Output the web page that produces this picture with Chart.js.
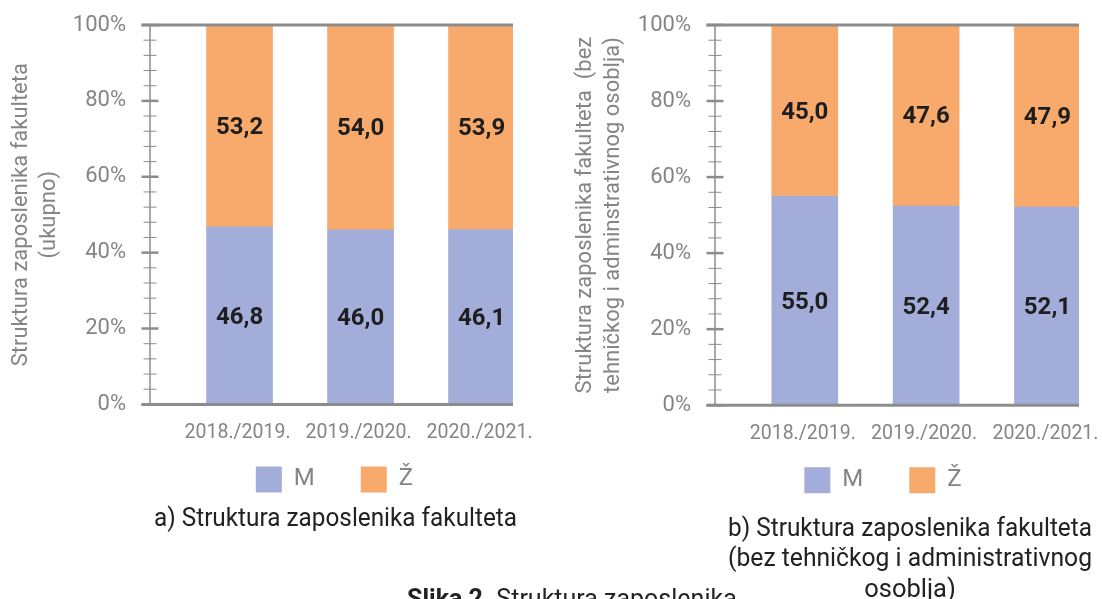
<!DOCTYPE html>
<html>
<head>
<meta charset="utf-8">
<script src="https://cdn.jsdelivr.net/npm/chart.js@4.4.0/dist/chart.umd.min.js"></script>
<style>
  html, body { margin: 0; padding: 0; background: #fff; width: 1102px; height: 599px; overflow: hidden; }
  .box { position: absolute; top: 0; width: 551px; height: 620px; }
  #left { left: 0; }
  #right { left: 551px; }
  #slika { position: absolute; left: 407px; top: 584px; font: 25px Roboto, sans-serif; line-height: 30px; color: #222; white-space: nowrap; }
</style>
</head>
<body>
<div class="box" id="left"><canvas id="c1" width="551" height="620"></canvas></div>
<div class="box" id="right"><canvas id="c2" width="551" height="620"></canvas></div>
<div id="slika"><b>Slika 2.</b> Struktura zaposlenika</div>
<script>
// data
const years = ['2018./2019.', '2019./2020.', '2020./2021.'];
const seriesNames = ['M', 'Ž'];
const totalM = [46.8, 46.0, 46.1];
const totalZ = [53.2, 54.0, 53.9];
const academicM = [55.0, 52.4, 52.1];
const academicZ = [45.0, 47.6, 47.9];
const yTickValues = [0, 20, 40, 60, 80, 100];
const totalAxisTitle = ['Struktura zaposlenika fakulteta', '(ukupno)'];
const academicAxisTitle = ['Struktura zaposlenika fakulteta  (bez', 'tehničkog i adminstrativnog osoblja)'];
const totalCaption = 'a) Struktura zaposlenika fakulteta';
const academicCaption = ['b) Struktura zaposlenika fakulteta', '(bez tehničkog i administrativnog', 'osoblja)'];

const FONT = 'Roboto, "Noto Sans", sans-serif';
const GREY = '#858585';
const AXIS = '#8c8c8c';
const colM = '#a2aed9';
const colZ = '#f8aa6c';

// value labels inside each segment
const segLabels = {
  id: 'segLabels',
  afterDatasetsDraw(chart) {
    const ctx = chart.ctx;
    ctx.save();
    ctx.font = 'bold 24px ' + FONT;
    ctx.fillStyle = '#1e1e1e';
    ctx.textAlign = 'center';
    ctx.textBaseline = 'middle';
    chart.data.datasets.forEach((ds, di) => {
      chart.getDatasetMeta(di).data.forEach((bar, i) => {
        const v = ds.data[i].y;
        ctx.fillText(v.toFixed(1).replace('.', ','), bar.x, (bar.y + bar.base) / 2 + 2);
      });
    });
    ctx.restore();
  }
};

// axis line with ticks crossing it, 0% / 100% lines and category labels
const axisLines = {
  id: 'axisLines',
  afterDatasetsDraw(chart) {
    const ctx = chart.ctx;
    const y = chart.scales.y;
    const x = chart.scales.x;
    const a = chart.chartArea;
    ctx.save();
    ctx.strokeStyle = AXIS;
    ctx.lineWidth = 1.5;
    ctx.beginPath();
    ctx.moveTo(a.left, y.getPixelForValue(0));
    ctx.lineTo(a.left, y.getPixelForValue(100));
    ctx.stroke();
    for (let v = 0; v <= 100; v += 4) {
      const py = y.getPixelForValue(v);
      const major = v % 20 === 0;
      ctx.lineWidth = major ? 2.5 : 1;
      const len = major ? 8.5 : 6.5;
      ctx.beginPath();
      ctx.moveTo(a.left - len, py);
      ctx.lineTo(a.left + len, py);
      ctx.stroke();
    }
    ctx.lineWidth = 3;
    [0, 100].forEach(v => {
      const py = y.getPixelForValue(v);
      ctx.beginPath();
      ctx.moveTo(a.left - 8.5, py);
      ctx.lineTo(a.right, py);
      ctx.stroke();
    });
    ctx.font = '19.5px ' + FONT;
    ctx.fillStyle = GREY;
    ctx.textAlign = 'center';
    ctx.textBaseline = 'middle';
    years.forEach((lab, i) => {
      ctx.fillText(lab, x.getPixelForValue(i) - 2, a.bottom + 29);
    });
    ctx.restore();
  }
};

// move legend / caption sideways
const nudge = {
  id: 'nudge',
  afterLayout(chart, args, opts) {
    if (chart.legend) { chart.legend.left += opts.legend; chart.legend.right += opts.legend; }
    if (chart.titleBlock) { chart.titleBlock.left += opts.title; chart.titleBlock.right += opts.title; }
  }
};

function makeChart(id, mVals, zVals, axisTitle, caption, cfg) {
  return new Chart(document.getElementById(id), {
    type: 'bar',
    data: {
      datasets: [
        { label: seriesNames[0], data: mVals.map((v, i) => ({ x: i, y: v })), backgroundColor: colM, barThickness: 66 },
        { label: seriesNames[1], data: zVals.map((v, i) => ({ x: i, y: v })), backgroundColor: colZ, barThickness: 66 }
      ]
    },
    options: {
      responsive: false,
      animation: false,
      layout: { padding: { top: 25, left: 0, right: cfg.right, bottom: cfg.bottom } },
      scales: {
        x: {
          type: 'linear', min: -0.74, max: 2.26, offset: false, stacked: true,
          grid: { display: false, drawTicks: false },
          border: { display: false },
          ticks: { display: false },
          afterFit: s => { s.height = 16; s.paddingLeft = 0; s.paddingRight = 0; }
        },
        y: {
          min: 0, max: 100, stacked: true,
          grid: { display: false, drawTicks: false },
          border: { display: false },
          afterBuildTicks: s => { s.ticks = yTickValues.map(v => ({ value: v })); },
          afterFit: s => { s.width = cfg.axisWidth; s.paddingTop = 0; s.paddingBottom = 0; },
          ticks: { callback: v => v + '%', font: { family: FONT, size: 22 }, color: GREY, padding: 24 },
          title: { display: true, text: axisTitle, color: GREY, font: { family: FONT, size: 22, lineHeight: 1.25 }, padding: { top: cfg.axisTitlePad, bottom: 0 } }
        }
      },
      plugins: {
        legend: {
          position: 'bottom', fullSize: false,
          labels: { boxWidth: 26, boxHeight: 26, padding: 46, color: GREY, font: { family: FONT, size: 24 } }
        },
        title: {
          display: true, position: 'bottom', fullSize: false, text: caption, color: '#222',
          font: { family: FONT, size: 25.5, weight: 'normal', lineHeight: cfg.capLH },
          padding: { top: cfg.capPad, bottom: 0 }
        },
        tooltip: { enabled: false },
        nudge: { legend: cfg.legendShift, title: cfg.titleShift }
      }
    },
    plugins: [axisLines, segLabels, nudge]
  });
}

makeChart('c1', totalM, totalZ, totalAxisTitle, totalCaption,
  { axisWidth: 150, right: 38, bottom: 85, axisTitlePad: 8, capLH: 1.2, capPad: 2, legendShift: 3, titleShift: 4 });
makeChart('c2', academicM, academicZ, academicAxisTitle, academicCaption,
  { axisWidth: 164, right: 23, bottom: 14, axisTitlePad: 21, capLH: 1.2, capPad: 11, legendShift: -14, titleShift: 13 });
</script>
</body>
</html>
